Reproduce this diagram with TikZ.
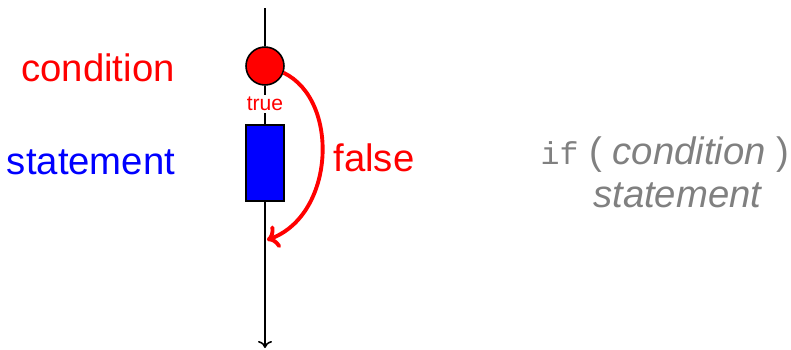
\documentclass[tikz,border=0pt]{standalone}
\usepackage{fontspec}
\usetikzlibrary{arrows.meta}
\setmainfont{Liberation Sans}
\setmonofont{Liberation Mono}
\tikzset{
  big/.style = {font=\fontsize{21.8}{26}\selectfont, inner sep=0pt},
  code/.style = {big, text=gray},
  flow/.style = {line width=0.9pt}
}
\begin{document}
\begin{tikzpicture}[x=0.02cm,y=-0.02cm]
\useasboundingbox (0,0) rectangle (791,349);
\coordinate (top) at (265,8);
\coordinate (bottom) at (265,348);
\coordinate (join) at (267,240);
\node[circle, draw, fill=red, flow, minimum size=38*0.02cm, inner sep=0pt] (cond) at (265,66) {};
\node[text=red, font=\fontsize{12}{14}\selectfont, inner sep=1pt] (true) at (265,104) {true};
\node[rectangle, draw, fill=blue, flow, minimum width=38*0.02cm, minimum height=76*0.02cm, inner sep=0pt] (stmt) at (265,163) {};
\draw[flow] (top) -- (cond);
\draw[flow] (cond) -- (true);
\draw[flow] (true) -- (stmt);
\draw[flow,-{To[length=4pt,width=8pt]}] (stmt) -- (bottom);
\draw[red, line width=2.2pt, ->] (cond.-20) .. controls (340,100) and (335,215) .. (join);
\node[big, text=red] (condlabel) at (98,68) {condition};
\node[big, text=blue] (stmtlabel) at (91,162) {statement};
\node[big, text=red] (falselabel) at (374,158) {false};
\node[code] (ifline) at (665,155) {{\fontsize{18}{22}\selectfont\texttt{if}} ( \textit{condition} )};
\node[code] (bodyline) at (678,195) {\textit{statement}};
\end{tikzpicture}
\end{document}
